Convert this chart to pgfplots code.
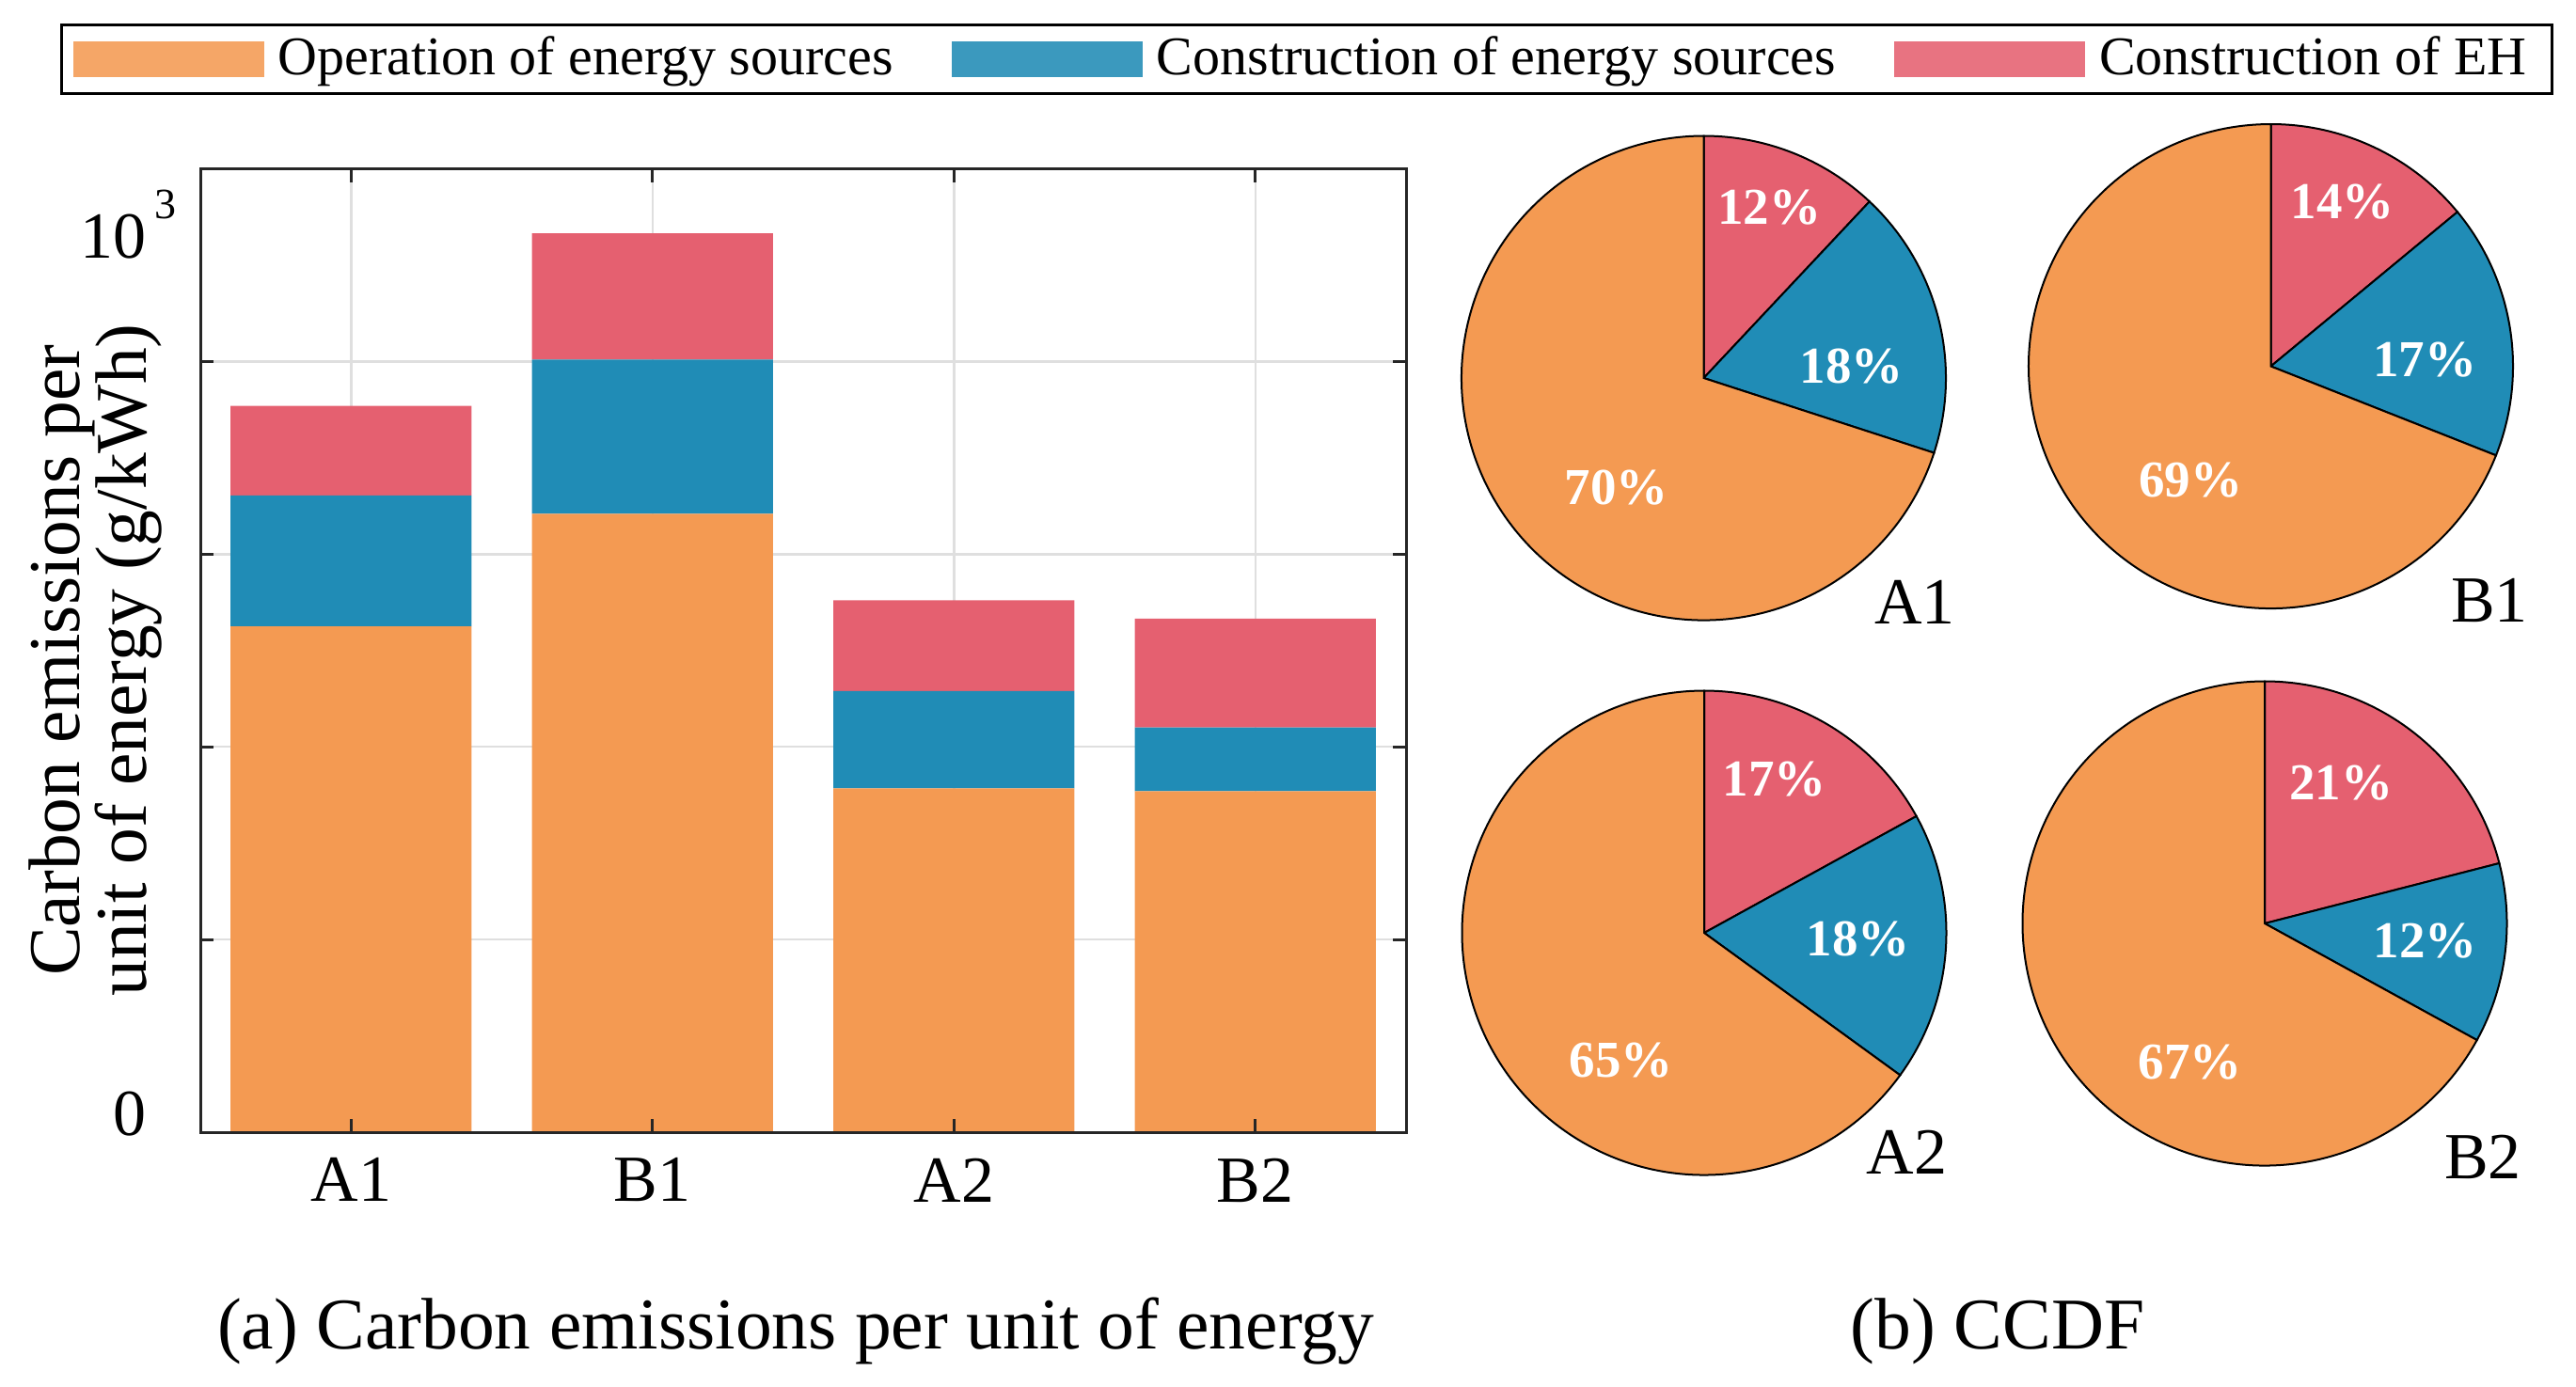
\documentclass[border=0pt]{standalone}
\usepackage{fontspec}
\setmainfont{Liberation Serif}
\usepackage{pgfplots}
\usepackage{pgfplotstable}
\pgfplotsset{compat=1.18}

\definecolor{cop}{HTML}{F49A52}
\definecolor{ccs}{HTML}{208CB6}
\definecolor{ceh}{HTML}{E56070}
\definecolor{gridc}{HTML}{DFDFDF}
\definecolor{axc}{HTML}{262626}

% stacked emissions (g/kWh)
\pgfplotstableread{
x op  cs  eh
1 525 136 93
2 642 160 131
3 357 101 94
4 354 66  113
}\emis

\newcommand{\pr}{51.5pt}
% #1 EH share, #2 construction share, #3 operation share (percent)
\newcommand{\pieslices}[3]{%
  \fill[ceh, draw=black, line width=0.4pt] (axis cs:0,0) -- ++(90:\pr)
    arc[start angle=90, end angle={90-3.6*#1}, radius=\pr] -- cycle;
  \fill[ccs, draw=black, line width=0.4pt] (axis cs:0,0) -- ++({90-3.6*#1}:\pr)
    arc[start angle={90-3.6*#1}, end angle={90-3.6*(#1+#2)}, radius=\pr] -- cycle;
  \fill[cop, draw=black, line width=0.4pt] (axis cs:0,0) -- ++({90-3.6*(#1+#2)}:\pr)
    arc[start angle={90-3.6*(#1+#2)}, end angle={90-3.6*(#1+#2+#3)}, radius=\pr] -- cycle;
}

\pgfplotsset{
  pieax/.style={hide axis, scale only axis, width=103pt, height=103pt,
    xmin=-1, xmax=1, ymin=-1, ymax=1, clip=false, anchor=center},
  barbox/.style={at={(42.6pt,-240.8pt)}, anchor=south west,
    scale only axis, width=256.4pt, height=204.9pt,
    xmin=0.5, xmax=4.5, ymin=0, ymax=1000,
    xtick={1,2,3,4}, ytick={0,200,400,600,800,1000},
    axis line style={axc, line width=0.6pt},
    tick style={axc, line width=0.6pt},
    tick align=inside, major tick length=2.8pt},
}
\tikzset{
  pct/.style={text=white, font=\bfseries\fontsize{11}{13}\selectfont, inner sep=0pt},
  pname/.style={font=\fontsize{14}{16}\selectfont, inner sep=0pt},
}

\begin{document}
\begin{tikzpicture}
\useasboundingbox (0,0) rectangle (547.8pt,-294.8pt);

\begin{axis}[barbox,
  ybar stacked, bar width=0.8,
  xticklabels={A1,B1,A2,B2}, yticklabels={0,,,,,},
  tick label style={font=\fontsize{14}{16}\selectfont},
  xticklabel style={yshift=-2pt},
  yticklabel style={xshift=-8pt, yshift=3.8pt},
  grid=major, major grid style={gridc, line width=0.5pt},
  every axis y label/.style={at={(axis description cs:-0.087,0.49)}, rotate=90, anchor=center},
  ylabel={Carbon emissions per\\[-1.2pt]unit of energy (g/kWh)},
  ylabel style={align=center, font=\fontsize{15.5}{13.8}\selectfont},
  legend columns=3,
  legend image code/.code={\fill[#1, fill opacity=0.88] (0pt,-3.8pt) rectangle (40.6pt,3.8pt);},
  legend style={at={(0.9177,1.1137)}, anchor=center,
    font=\fontsize{11.6}{13}\selectfont, draw=black, line width=0.6pt,
    inner xsep=2.4pt, inner ysep=1pt,
    nodes={inner xsep=3pt, inner ysep=1.5pt},
    /tikz/every even column/.append style={column sep=9.4pt}},
]
\addplot[fill=cop, draw=none] table[x=x, y=op] {\emis};
\addplot[fill=ccs, draw=none] table[x=x, y=cs] {\emis};
\addplot[fill=ceh, draw=none] table[x=x, y=eh] {\emis};
\legend{Operation of energy sources, Construction of energy sources, Construction of EH}
\end{axis}

% box and ticks drawn over the bars
\begin{axis}[barbox, axis on top, xticklabels={}, yticklabels={}]
\end{axis}

\node[anchor=base west, inner sep=0pt, font=\fontsize{14}{16}\selectfont] at (16.8pt,-54.8pt)
  {10\hspace{1.8pt}\raisebox{8.4pt}{\fontsize{9.2}{10}\selectfont 3}};

\begin{axis}[pieax, at={(362.3pt,-80.4pt)}]
\pieslices{12}{18}{70}
\node[pct] at (axis cs:0.271,0.705) {12\%};
\node[pct] at (axis cs:0.611,0.049) {18\%};
\node[pct] at (axis cs:-0.361,-0.452) {70\%};
\node[pname] at (axis cs:0.872,-0.924) {A1};
\end{axis}

\begin{axis}[pieax, at={(482.9pt,-77.9pt)}]
\pieslices{14}{17}{69}
\node[pct] at (axis cs:0.296,0.68) {14\%};
\node[pct] at (axis cs:0.636,0.028) {17\%};
\node[pct] at (axis cs:-0.332,-0.47) {69\%};
\node[pname] at (axis cs:0.903,-0.967) {B1};
\end{axis}

\begin{axis}[pieax, at={(362.4pt,-198.4pt)}]
\pieslices{17}{18}{65}
\node[pct] at (axis cs:0.291,0.633) {17\%};
\node[pct] at (axis cs:0.636,-0.025) {18\%};
\node[pct] at (axis cs:-0.342,-0.527) {65\%};
\node[pname] at (axis cs:0.837,-0.905) {A2};
\end{axis}

\begin{axis}[pieax, at={(481.6pt,-196.4pt)}]
\pieslices{21}{12}{67}
\node[pct] at (axis cs:0.316,0.58) {21\%};
\node[pct] at (axis cs:0.662,-0.072) {12\%};
\node[pct] at (axis cs:-0.308,-0.572) {67\%};
\node[pname] at (axis cs:0.901,-0.963) {B2};
\end{axis}

\node[anchor=base, font=\fontsize{15.5}{18}\selectfont] at (169.2pt,-286.8pt)
  {(a) Carbon emissions per unit of energy};
\node[anchor=base, font=\fontsize{15.5}{18}\selectfont] at (424.8pt,-286.8pt) {(b) CCDF};
\end{tikzpicture}
\end{document}
